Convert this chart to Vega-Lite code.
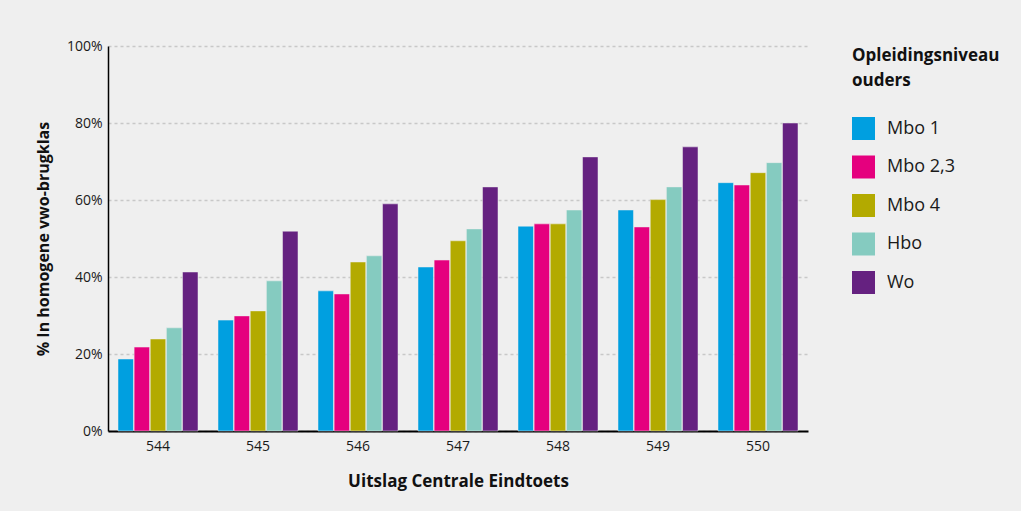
{
  "$schema": "https://vega.github.io/schema/vega-lite/v6.json",
  "width": 700,
  "height": 385,
  "autosize": {"type": "none"},
  "padding": {"left": 108, "top": 46, "right": 213, "bottom": 80},
  "background": "#efefef",
  "config": {
    "font": "Open Sans",
    "view": {"stroke": null},
    "axis": {"labelColor": "#1a1a1a", "titleColor": "#111111"}
  },
  "data": {
    "values": [
      {"score": "544", "niveau": "Mbo 1", "pct": 18.7},
      {"score": "544", "niveau": "Mbo 2,3", "pct": 21.8},
      {"score": "544", "niveau": "Mbo 4", "pct": 23.9},
      {"score": "544", "niveau": "Hbo", "pct": 26.8},
      {"score": "544", "niveau": "Wo", "pct": 41.3},
      {"score": "545", "niveau": "Mbo 1", "pct": 28.8},
      {"score": "545", "niveau": "Mbo 2,3", "pct": 29.9},
      {"score": "545", "niveau": "Mbo 4", "pct": 31.2},
      {"score": "545", "niveau": "Hbo", "pct": 39.0},
      {"score": "545", "niveau": "Wo", "pct": 51.9},
      {"score": "546", "niveau": "Mbo 1", "pct": 36.4},
      {"score": "546", "niveau": "Mbo 2,3", "pct": 35.6},
      {"score": "546", "niveau": "Mbo 4", "pct": 43.9},
      {"score": "546", "niveau": "Hbo", "pct": 45.5},
      {"score": "546", "niveau": "Wo", "pct": 59.0},
      {"score": "547", "niveau": "Mbo 1", "pct": 42.6},
      {"score": "547", "niveau": "Mbo 2,3", "pct": 44.4},
      {"score": "547", "niveau": "Mbo 4", "pct": 49.4},
      {"score": "547", "niveau": "Hbo", "pct": 52.5},
      {"score": "547", "niveau": "Wo", "pct": 63.4},
      {"score": "548", "niveau": "Mbo 1", "pct": 53.2},
      {"score": "548", "niveau": "Mbo 2,3", "pct": 53.8},
      {"score": "548", "niveau": "Mbo 4", "pct": 53.8},
      {"score": "548", "niveau": "Hbo", "pct": 57.4},
      {"score": "548", "niveau": "Wo", "pct": 71.2},
      {"score": "549", "niveau": "Mbo 1", "pct": 57.4},
      {"score": "549", "niveau": "Mbo 2,3", "pct": 53.0},
      {"score": "549", "niveau": "Mbo 4", "pct": 60.1},
      {"score": "549", "niveau": "Hbo", "pct": 63.4},
      {"score": "549", "niveau": "Wo", "pct": 73.8},
      {"score": "550", "niveau": "Mbo 1", "pct": 64.5},
      {"score": "550", "niveau": "Mbo 2,3", "pct": 63.9},
      {"score": "550", "niveau": "Mbo 4", "pct": 67.1},
      {"score": "550", "niveau": "Hbo", "pct": 69.7},
      {"score": "550", "niveau": "Wo", "pct": 80.0}
    ]
  },
  "mark": {"type": "bar", "stroke": "#efefef", "strokeWidth": 0.5},
  "encoding": {
    "x": {
      "field": "score",
      "type": "nominal",
      "scale": {"paddingInner": 0.2, "paddingOuter": 0.1},
      "axis": {
        "title": "Uitslag Centrale Eindtoets",
        "titleFontSize": 17,
        "titleFontWeight": "bold",
        "titlePadding": 20,
        "labelAngle": 0,
        "labelFontSize": 14,
        "labelPadding": 8,
        "ticks": false,
        "domainColor": "#000000",
        "domainWidth": 2,
        "grid": false
      }
    },
    "xOffset": {
      "field": "niveau",
      "type": "nominal",
      "sort": ["Mbo 1", "Mbo 2,3", "Mbo 4", "Hbo", "Wo"],
      "scale": {"paddingInner": 0.04}
    },
    "y": {
      "field": "pct",
      "type": "quantitative",
      "scale": {"domain": [0, 100], "nice": false},
      "axis": {
        "title": "% In homogene vwo-brugklas",
        "titleFontSize": 16,
        "titleFontWeight": "bold",
        "titlePadding": 15,
        "values": [0, 20, 40, 60, 80, 100],
        "labelExpr": "datum.value + '%'",
        "labelFontSize": 14,
        "labelPadding": 6,
        "ticks": false,
        "domainColor": "#000000",
        "domainWidth": 1.5,
        "grid": true,
        "gridColor": "#c8c8c8",
        "gridDash": [3, 3],
        "gridWidth": 1.5
      }
    },
    "color": {
      "field": "niveau",
      "type": "nominal",
      "sort": ["Mbo 1", "Mbo 2,3", "Mbo 4", "Hbo", "Wo"],
      "scale": {
        "domain": ["Mbo 1", "Mbo 2,3", "Mbo 4", "Hbo", "Wo"],
        "range": ["#009fe0", "#e5007e", "#b3aa00", "#85cbc0", "#652180"]
      },
      "legend": {
        "title": ["Opleidingsniveau", "ouders"],
        "titleFontSize": 17,
        "titleFontWeight": "bold",
        "titleLineHeight": 25,
        "titlePadding": 27,
        "titleColor": "#111111",
        "orient": "right",
        "offset": 42,
        "padding": 2,
        "symbolType": "square",
        "symbolSize": 529,
        "symbolStrokeWidth": 0,
        "labelFontSize": 18,
        "labelColor": "#1a1a1a",
        "labelOffset": 12,
        "rowPadding": 15.5
      }
    }
  }
}
